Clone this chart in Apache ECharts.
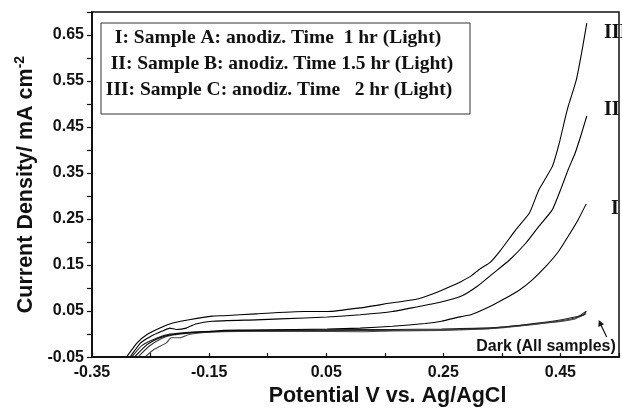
<!DOCTYPE html>
<html>
<head>
<meta charset="utf-8">
<script src="https://cdn.jsdelivr.net/npm/echarts@6/dist/echarts.min.js"></script>
<style>html,body{margin:0;padding:0;background:#fff}#c{width:622px;height:412px}</style>
</head>
<body>
<div id="c"></div>
<script>
// Curve III: Sample C, 2 hr (Light)
var xIII = [-0.290,-0.273,-0.256,-0.234,-0.212,-0.184,-0.145,-0.125,-0.070,0.013,0.052,0.108,0.163,0.202,0.235,0.263,0.280,0.297,0.313,0.330,0.347,0.374,0.397,0.413,0.436,0.448,0.458,0.463,0.477,0.486,0.495];
var yIII = [-0.048,-0.019,-0.001,0.013,0.024,0.031,0.039,0.040,0.044,0.049,0.049,0.057,0.068,0.075,0.089,0.104,0.114,0.126,0.142,0.156,0.181,0.227,0.263,0.313,0.364,0.415,0.469,0.494,0.552,0.610,0.676];
// Curve II: Sample B, 1.5 hr (Light)
var xII = [-0.284,-0.267,-0.250,-0.231,-0.217,-0.206,-0.189,-0.173,-0.145,-0.070,0.013,0.052,0.108,0.163,0.208,0.241,0.280,0.308,0.336,0.363,0.391,0.413,0.436,0.450,0.463,0.475,0.486,0.495];
var yII = [-0.048,-0.019,-0.005,0.006,0.013,0.010,0.013,0.022,0.028,0.031,0.035,0.037,0.042,0.049,0.060,0.068,0.082,0.104,0.133,0.161,0.198,0.234,0.270,0.313,0.357,0.393,0.436,0.474];
// Curve I: Sample A, 1 hr (Light)
var xI = [-0.276,-0.256,-0.234,-0.217,-0.184,-0.145,-0.125,-0.070,-0.003,0.052,0.108,0.163,0.219,0.247,0.280,0.297,0.325,0.352,0.380,0.402,0.425,0.447,0.463,0.480,0.494];
var yI = [-0.048,-0.023,-0.008,-0.002,0.003,0.006,0.008,0.009,0.010,0.011,0.013,0.017,0.023,0.028,0.038,0.042,0.057,0.075,0.096,0.118,0.147,0.180,0.212,0.248,0.283];
// Dark curves (all samples)
var xDarkA = [-0.270,-0.253,-0.232,-0.212,-0.184,-0.145,-0.070,0.013,0.108,0.163,0.219,0.280,0.336,0.391,0.447,0.475,0.483,0.494];
var yDarkA = [-0.048,-0.027,-0.010,-0.002,0.002,0.005,0.007,0.008,0.008,0.008,0.009,0.010,0.013,0.020,0.028,0.035,0.040,0.049];
var xDarkB = [-0.258,-0.245,-0.223,-0.215,-0.200,-0.184,-0.162,-0.128,-0.070,0.013,0.108,0.163,0.247,0.336,0.391,0.447,0.475,0.494];
var yDarkB = [-0.048,-0.034,-0.019,-0.008,-0.008,-0.001,0.003,0.005,0.006,0.006,0.005,0.007,0.008,0.012,0.019,0.027,0.033,0.044];
var xDarkC = [-0.281,-0.265,-0.240,-0.217,-0.184,-0.145,-0.070,0.013,0.108,0.163,0.247,0.336,0.391,0.447,0.475,0.490,0.494];
var yDarkC = [-0.048,-0.025,-0.009,0.000,0.004,0.006,0.008,0.009,0.010,0.010,0.011,0.014,0.021,0.030,0.037,0.042,0.050];

var legendLines = ['I: Sample A: anodiz. Time  1 hr (Light)', 'II: Sample B: anodiz. Time 1.5 hr (Light)', 'III: Sample C: anodiz. Time   2 hr (Light)'];
var curveLabels = ['III', 'II', 'I'];
var darkLabel = 'Dark (All samples)';

function pairs(xs, ys) { return xs.map(function (x, i) { return [x, ys[i]]; }); }

var chart = echarts.init(document.getElementById('c'), null, {renderer: 'canvas'});
var sans = 'Liberation Sans, Arial, sans-serif';
var serif = 'Liberation Serif, Times New Roman, serif';
function line(name, xs, ys, color) {
  return {name: name, type: 'line', data: pairs(xs, ys), showSymbol: false, symbol: 'none',
    lineStyle: {color: color, width: 1.1}, smooth: 0.15, z: 3};
}
chart.setOption({
  animation: false,
  backgroundColor: '#fff',
  grid: {left: 92, top: 12, right: -10, bottom: 54.5, show: true, borderColor: '#111', borderWidth: 1.5},
  xAxis: {
    type: 'value', min: -0.35, max: 0.55, interval: 0.1,
    name: 'Potential V vs. Ag/AgCl', nameLocation: 'middle', nameGap: 27,
    nameTextStyle: {fontFamily: sans, fontWeight: 'bold', fontSize: 21.5, color: '#111', padding: [0, 0, 0, 64]},
    axisLine: {show: true, onZero: false, lineStyle: {color: '#111', width: 2}},
    axisTick: {show: true, inside: true, length: 4, lineStyle: {color: '#111', width: 1.2}},
    splitLine: {show: false},
    axisLabel: {margin: 7, fontFamily: sans, fontWeight: 'bold', fontSize: 16, color: '#111',
      formatter: function (v) { return Math.round((v + 0.35) / 0.1) % 2 === 0 ? v.toFixed(2) : ''; }}
  },
  yAxis: {
    type: 'value', min: -0.05, max: 0.70, interval: 0.05,
    name: 'Current Density/ mA cm{sup|-2}', nameLocation: 'middle', nameGap: 54,
    nameTextStyle: {fontFamily: sans, fontWeight: 'bold', fontSize: 21.5, color: '#111', padding: [0, 0, 0, 0],
      rich: {sup: {fontFamily: sans, fontWeight: 'bold', fontSize: 14, color: '#111', verticalAlign: 'top', padding: [0, 0, 10, 0]}}},
    axisLine: {show: true, onZero: false, lineStyle: {color: '#111', width: 2}},
    axisTick: {show: true, inside: false, length: 5, lineStyle: {color: '#111', width: 1.2}},
    splitLine: {show: false},
    axisLabel: {margin: 8, fontFamily: sans, fontWeight: 'bold', fontSize: 16, color: '#111',
      formatter: function (v) { return Math.round((v + 0.05) / 0.05) % 2 === 0 ? v.toFixed(2) : ''; }}
  },
  series: [
    line('Dark A', xDarkA, yDarkA, '#333'),
    line('Dark B', xDarkB, yDarkB, '#444'),
    line('Dark C', xDarkC, yDarkC, '#222'),
    line('I', xI, yI, '#000'),
    line('II', xII, yII, '#000'),
    line('III', xIII, yIII, '#000')
  ],
  graphic: [
    {type: 'rect', shape: {x: 101, y: 23, width: 369, height: 91}, style: {fill: '#fff', stroke: '#333', lineWidth: 1}, z: 10},
    {type: 'text', x: 278, y: 38, style: {text: legendLines[0], font: 'bold 19.5px ' + serif, fill: '#111', textAlign: 'center', textVerticalAlign: 'middle'}, z: 11},
    {type: 'text', x: 282, y: 64, style: {text: legendLines[1], font: 'bold 19.5px ' + serif, fill: '#111', textAlign: 'center', textVerticalAlign: 'middle'}, z: 11},
    {type: 'text', x: 279, y: 89.5, style: {text: legendLines[2], font: 'bold 19.5px ' + serif, fill: '#111', textAlign: 'center', textVerticalAlign: 'middle'}, z: 11},
    {type: 'text', x: 604, y: 33, style: {text: curveLabels[0], font: 'bold 20px ' + serif, fill: '#111', textAlign: 'left', textVerticalAlign: 'middle'}, z: 11},
    {type: 'text', x: 604, y: 110, style: {text: curveLabels[1], font: 'bold 20px ' + serif, fill: '#111', textAlign: 'left', textVerticalAlign: 'middle'}, z: 11},
    {type: 'text', x: 611, y: 209, style: {text: curveLabels[2], font: 'bold 20px ' + serif, fill: '#111', textAlign: 'left', textVerticalAlign: 'middle'}, z: 11},
    {type: 'text', x: 546, y: 347, style: {text: darkLabel, font: 'bold 16px ' + sans, fill: '#111', textAlign: 'center', textVerticalAlign: 'middle'}, z: 11},
    {type: 'line', shape: {x1: 606.7, y1: 337, x2: 600, y2: 323}, style: {stroke: '#111', lineWidth: 1.2}, z: 11},
    {type: 'polygon', shape: {points: [[598.7, 320], [604, 324.3], [598.4, 326.9]]}, style: {fill: '#111'}, z: 11}
  ]
});
</script>
</body>
</html>
